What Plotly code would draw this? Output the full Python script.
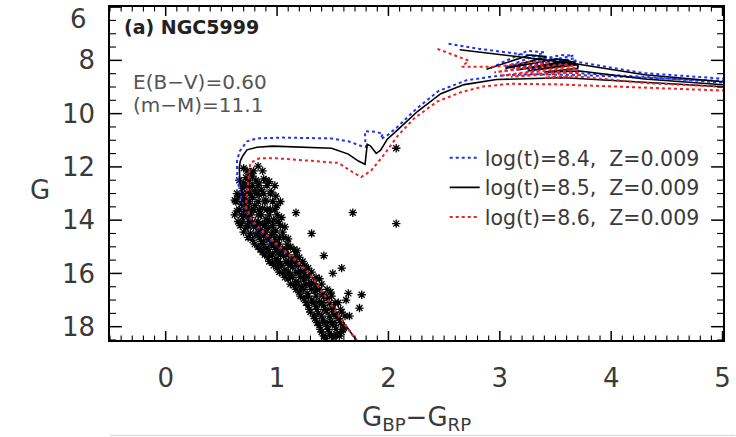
import plotly.graph_objects as go

# ---------------- data ----------------
# Isochrone log(t)=8.4 (blue)
iso84_main_c = [1.72, 1.58, 1.44, 1.29, 1.13, 0.98, 0.84, 0.75, 0.68, 0.65, 0.64, 0.64, 0.665, 0.73, 0.82, 1.05, 1.49,
                1.64, 1.76, 1.80, 1.79, 1.79, 1.88, 1.95, 1.93, 1.98, 2.08, 2.25, 2.45, 2.70, 3.00, 3.30, 3.70, 4.30, 5.05]
iso84_main_g = [18.55, 17.75, 16.9, 16.0, 15.4, 14.88, 14.4, 13.91, 13.2, 12.6, 12.16, 11.78, 11.41, 11.04, 10.93, 10.90, 10.93,
                11.04, 11.22, 11.25, 10.95, 10.66, 10.68, 10.75, 10.95, 10.85, 10.50, 9.82, 9.15, 8.75, 8.57, 8.52, 8.55, 8.65, 8.78]
iso84_top_c = [2.54, 2.82, 3.10, 3.40, 3.68, 4.30, 5.05]
iso84_top_g = [7.38, 7.57, 7.72, 7.88, 8.05, 8.48, 8.70]
iso84_loop_c = [2.92, 3.25, 3.40, 3.05, 3.55, 3.66, 3.12, 3.68, 3.68, 3.25, 3.70, 3.70, 3.45, 3.72, 4.30, 5.05]
iso84_loop_g = [8.28, 7.64, 7.70, 8.25, 7.80, 7.82, 8.30, 7.92, 8.02, 8.34, 8.10, 8.40, 8.45, 8.48, 8.62, 8.85]

# Isochrone log(t)=8.5 (black)
iso85_main_c = [1.72, 1.58, 1.44, 1.29, 1.14, 0.99, 0.85, 0.76, 0.70, 0.67, 0.66, 0.67, 0.69, 0.73, 0.82, 0.96, 1.20, 1.49,
                1.64, 1.73, 1.79, 1.80, 1.81, 1.84, 1.89, 1.93, 1.99, 2.08, 2.26, 2.47, 2.68, 2.97, 3.26, 3.56, 3.74, 4.20, 4.60, 5.05]
iso85_main_g = [18.55, 17.75, 16.9, 16.0, 15.4, 14.88, 14.4, 13.91, 13.28, 12.64, 12.04, 11.78, 11.6, 11.36, 11.26, 11.22, 11.26, 11.30,
                11.52, 11.78, 11.90, 11.52, 11.15, 11.22, 11.49, 11.37, 10.96, 10.62, 9.92, 9.25, 8.91, 8.72, 8.69, 8.65, 8.69, 8.80, 8.90, 9.00]
iso85_top_c = [2.64, 3.00, 3.40, 3.68, 4.30, 5.05]
iso85_top_g = [7.60, 7.77, 7.98, 8.13, 8.54, 8.82]
iso85_loop_c = [2.88, 3.27, 3.42, 3.05, 3.50, 3.62, 3.15, 3.66, 3.68, 3.25, 3.70, 3.70, 3.40, 3.72, 4.30, 5.05]
iso85_loop_g = [8.33, 7.80, 7.86, 8.30, 7.95, 8.00, 8.36, 8.05, 8.12, 8.40, 8.16, 8.30, 8.44, 8.40, 8.70, 8.93]

# Isochrone log(t)=8.6 (red)
iso86_main_c = [1.72, 1.58, 1.44, 1.29, 1.14, 0.99, 0.86, 0.77, 0.72, 0.73, 0.74, 0.75, 0.76, 0.84, 1.00, 1.20, 1.55, 1.68,
                1.755, 1.84, 1.95, 2.08, 2.23, 2.44, 2.65, 2.85, 3.10, 3.50, 3.80, 4.40, 5.05]
iso86_main_g = [18.55, 17.75, 16.9, 16.0, 15.4, 14.88, 14.4, 13.95, 13.5, 13.0, 12.6, 12.16, 11.85, 11.68, 11.68, 11.74, 11.85, 12.20,
                12.38, 12.16, 11.6, 10.85, 10.18, 9.54, 9.20, 8.98, 8.88, 8.90, 8.95, 9.05, 9.14]
iso86_top_c = [2.44, 2.72, 2.66, 2.97, 3.30, 3.45, 2.95, 3.55, 3.66, 3.00, 3.68, 3.70, 3.10, 3.70, 3.72, 3.40, 3.75, 4.30, 5.05]
iso86_top_g = [7.57, 8.01, 8.24, 8.24, 8.05, 8.10, 8.45, 8.15, 8.20, 8.58, 8.28, 8.35, 8.62, 8.45, 8.55, 8.65, 8.62, 8.85, 9.00]

# Observed cluster members (BP-RP, G), part 1
star_c = [0.70, 0.83, 0.76,
          0.72, 0.78, 0.88, 0.70, 0.84, 0.93,
          0.69, 0.75, 0.80, 0.86, 0.95, 0.73,
          0.66, 0.71, 0.78, 0.84, 0.90, 0.99, 0.62,
          0.68, 0.74, 0.80, 0.87, 0.94, 1.00, 0.64, 0.77,
          0.70, 0.76, 0.83, 0.90, 0.97, 0.65, 0.80, 0.87, 1.04,
          0.72, 0.79, 0.85, 0.92, 0.99, 1.07, 0.76,
          0.81, 0.88, 0.95, 1.02, 0.78, 0.86, 0.93, 1.00, 1.10,
          0.83, 0.90, 0.97, 1.05, 1.12, 0.87, 0.94, 1.01, 1.18,
          0.92, 0.99, 1.06, 1.13, 1.20, 0.96, 1.03, 1.10,
          1.00, 1.07, 1.14, 1.21, 1.28, 1.05, 1.12, 1.19, 1.26,
          1.10, 1.17, 1.24, 1.31, 1.38, 1.15, 1.22,
          1.29, 1.36, 1.20, 1.27, 1.34, 1.41, 1.48,
          1.24, 1.31, 1.38, 1.45, 1.52, 1.28, 1.35,
          1.42, 1.49, 1.30, 1.37, 1.44, 1.51, 1.58,
          1.34, 1.41, 1.48, 1.55, 1.38, 1.45, 1.52, 1.60,
          1.40, 1.47, 1.54, 1.44, 1.51, 1.58,
          1.17, 1.31, 1.68, 2.07, 2.07, 1.42, 1.76, 1.74, 1.64, 1.58]
star_g = [12.05, 11.97, 12.20,
          12.40, 12.35, 12.45, 12.60, 12.60, 12.55,
          12.80, 12.75, 12.90, 12.85, 12.95, 13.00,
          13.10, 13.20, 13.15, 13.05, 13.25, 13.10, 13.25,
          13.40, 13.50, 13.45, 13.55, 13.60, 13.45, 13.65, 13.70,
          13.85, 13.90, 13.80, 13.95, 14.00, 14.05, 14.10, 14.15, 13.90,
          14.30, 14.25, 14.35, 14.30, 14.40, 14.25, 14.50,
          14.55, 14.60, 14.55, 14.65, 14.75, 14.80, 14.75, 14.85, 14.70,
          15.00, 15.05, 14.95, 15.10, 15.00, 15.20, 15.25, 15.20, 15.15,
          15.40, 15.45, 15.35, 15.50, 15.40, 15.60, 15.65, 15.60,
          15.80, 15.85, 15.75, 15.90, 15.80, 16.00, 16.05, 16.00, 16.10,
          16.20, 16.30, 16.25, 16.35, 16.20, 16.45, 16.50,
          16.45, 16.55, 16.70, 16.75, 16.65, 16.80, 16.70,
          16.95, 17.00, 17.05, 16.95, 17.10, 17.20, 17.25,
          17.20, 17.30, 17.45, 17.50, 17.40, 17.55, 17.45,
          17.70, 17.75, 17.80, 17.70, 17.95, 18.00, 17.95, 18.05,
          18.20, 18.25, 18.30, 18.45, 18.40, 18.20,
          13.72, 14.50, 13.72, 14.13, 11.30, 15.33, 16.80, 17.30, 16.75, 15.80]

# Observed cluster members, part 2
star2_c = [0.73, 0.79, 0.87,
           0.66, 0.75, 0.81, 0.90,
           0.71, 0.78, 0.83, 0.91, 0.98,
           0.64, 0.69, 0.76, 0.82, 0.88, 0.94,
           0.63, 0.70, 0.75, 0.83, 0.89, 0.96, 1.03,
           0.66, 0.71, 0.79, 0.84, 0.91, 0.98,
           0.62, 0.68, 0.73, 0.86, 0.93, 1.00,
           0.69, 0.75, 0.83, 0.92, 1.01,
           0.67, 0.74, 0.82, 0.89, 0.96, 1.03,
           0.70, 0.83, 0.90, 0.97, 1.05,
           0.74, 0.84, 0.91, 0.98, 1.06,
           0.80, 0.88, 0.95, 1.02, 1.09,
           0.85, 0.92, 0.99, 1.08, 1.15,
           0.89, 0.96, 1.03, 1.10, 1.17,
           0.93, 1.01, 1.08, 1.16, 1.23,
           0.97, 1.04, 1.12, 1.19, 1.25,
           1.02, 1.10, 1.17, 1.24, 1.31,
           1.07, 1.14, 1.21, 1.28, 1.35,
           1.12, 1.19, 1.26, 1.33, 1.40,
           1.17, 1.24, 1.31, 1.38, 1.45,
           1.21, 1.28, 1.35, 1.42, 1.49,
           1.26, 1.33, 1.40, 1.47, 1.55,
           1.29, 1.36, 1.43, 1.50, 1.57,
           1.33, 1.40, 1.47, 1.54, 1.61,
           1.36, 1.43, 1.50, 1.57,
           1.39, 1.46, 1.53, 1.59,
           1.42, 1.49, 1.56,
           1.50, 1.62, 1.65]
star2_g = [12.15, 12.15, 12.15,
           12.50, 12.50, 12.50, 12.50,
           12.70, 12.70, 12.70, 12.70, 12.70,
           13.00, 13.00, 13.00, 13.00, 13.00, 13.00,
           13.30, 13.30, 13.30, 13.30, 13.30, 13.30, 13.30,
           13.60, 13.60, 13.60, 13.60, 13.60, 13.60,
           13.80, 13.80, 13.80, 13.80, 13.80, 13.80,
           14.05, 14.05, 14.05, 14.05, 14.05,
           14.20, 14.20, 14.20, 14.20, 14.20, 14.20,
           14.45, 14.45, 14.45, 14.45, 14.45,
           14.65, 14.65, 14.65, 14.65, 14.65,
           14.90, 14.90, 14.90, 14.90, 14.90,
           15.10, 15.10, 15.10, 15.10, 15.10,
           15.30, 15.30, 15.30, 15.30, 15.30,
           15.55, 15.55, 15.55, 15.55, 15.55,
           15.70, 15.70, 15.70, 15.70, 15.70,
           15.95, 15.95, 15.95, 15.95, 15.95,
           16.15, 16.15, 16.15, 16.15, 16.15,
           16.40, 16.40, 16.40, 16.40, 16.40,
           16.60, 16.60, 16.60, 16.60, 16.60,
           16.85, 16.85, 16.85, 16.85, 16.85,
           17.10, 17.10, 17.10, 17.10, 17.10,
           17.35, 17.35, 17.35, 17.35, 17.35,
           17.60, 17.60, 17.60, 17.60, 17.60,
           17.85, 17.85, 17.85, 17.85,
           18.10, 18.10, 18.10, 18.10,
           18.35, 18.35, 18.35,
           16.00, 17.00, 17.60]

legend_names = ["log(t)=8.4,  Z=0.009", "log(t)=8.5,  Z=0.009", "log(t)=8.6,  Z=0.009"]

FONT = "DejaVu Sans"
TXT = "#3a3a3a"

# plot-area size in px (for tick-mark lengths)
W_PX, H_PX = 736 - 110 - 7, 437 - 5 - 97


def join(*segs):
    xs, ys = [], []
    for i, (sx, sy) in enumerate(segs):
        if i:
            xs.append(None)
            ys.append(None)
        xs += sx
        ys += sy
    return xs, ys


fig = go.Figure()

fig.add_trace(go.Scatter(x=star_c + star2_c, y=star_g + star2_g, mode="markers", showlegend=False,
                         marker=dict(symbol="asterisk-open", size=7, color="black",
                                     line=dict(color="black", width=1.3))))

bx, by = join((iso84_main_c, iso84_main_g), (iso84_top_c, iso84_top_g), (iso84_loop_c, iso84_loop_g))
kx, ky = join((iso85_main_c, iso85_main_g), (iso85_top_c, iso85_top_g), (iso85_loop_c, iso85_loop_g))
rx, ry = join((iso86_main_c, iso86_main_g), (iso86_top_c, iso86_top_g))

fig.add_trace(go.Scatter(x=bx, y=by, mode="lines", name=legend_names[0], connectgaps=False,
                         line=dict(color="#2233ee", width=2, dash="dot")))
fig.add_trace(go.Scatter(x=kx, y=ky, mode="lines", name=legend_names[1], connectgaps=False,
                         line=dict(color="black", width=1.6)))
fig.add_trace(go.Scatter(x=rx, y=ry, mode="lines", name=legend_names[2], connectgaps=False,
                         line=dict(color="#ee2222", width=2, dash="dot")))

fig.update_layout(
    width=736, height=437,
    margin=dict(l=110, r=7, t=5, b=97),
    paper_bgcolor="white", plot_bgcolor="white",
    font=dict(family=FONT, color=TXT),
    legend=dict(x=0.546, y=0.607, xanchor="left", yanchor="top",
                bgcolor="rgba(0,0,0,0)", font=dict(size=20.5, color=TXT, family=FONT)),
    xaxis=dict(range=[-0.5, 5.004], tickmode="linear", tick0=0, dtick=1, ticks="",
               showline=True, linecolor="black", linewidth=1.5,
               mirror=True, showgrid=False, zeroline=False, tickfont=dict(size=26, color=TXT),
               ticklabelstandoff=14, ticklabeloverflow="allow"),
    yaxis=dict(range=[18.5, 5.996], tickmode="linear", tick0=6, dtick=2, ticks="",
               showline=True, linecolor="black", linewidth=1.5,
               mirror=True, showgrid=False, zeroline=False, tickfont=dict(size=26, color=TXT),
               ticklabelstandoff=8, ticklabeloverflow="hide past div"),
)

# tick marks drawn inside the frame on all four sides
shapes = []
for i in range(56):
    xv = round(-0.5 + 0.1 * i, 2)
    major = abs(xv - round(xv)) < 1e-6
    ln = (9 if major else 4.5) / H_PX
    wd = 1.5 if major else 1.1
    for y0, y1 in ((0, ln), (1, 1 - ln)):
        shapes.append(dict(type="line", xref="x", yref="paper", x0=xv, x1=xv, y0=y0, y1=y1,
                           line=dict(color="black", width=wd)))
for i in range(26):
    yv = 6.0 + 0.5 * i
    major = abs(yv % 2) < 1e-6
    ln = (12 if major else 6) / W_PX
    wd = 1.5 if major else 1.1
    for x0, x1 in ((0, ln), (1, 1 - ln)):
        shapes.append(dict(type="line", xref="paper", yref="y", x0=x0, x1=x1, y0=yv, y1=yv,
                           line=dict(color="black", width=wd)))
shapes.append(dict(type="line", xref="paper", yref="paper", x0=0, x1=1.02, y0=-0.287, y1=-0.287,
                   line=dict(color="#dddddd", width=1.5)))
fig.update_layout(shapes=shapes)

ann = [
    dict(text="6", x=-0.035, y=0.965, xanchor="right", yanchor="middle", font=dict(size=26, color=TXT)),
    dict(text="<b>(a) NGC5999</b>", x=0.02, y=0.94, xanchor="left", yanchor="middle", font=dict(size=19, color="#222")),
    dict(text="E(B\u2212V)=0.60", x=0.035, y=0.775, xanchor="left", yanchor="middle", font=dict(size=20, color="#555")),
    dict(text="(m\u2212M)=11.1", x=0.035, y=0.705, xanchor="left", yanchor="middle", font=dict(size=20, color="#555")),
    dict(text="G", x=-0.115, y=0.45, xanchor="center", yanchor="middle", font=dict(size=26, color=TXT)),
    dict(text="G<sub>BP</sub>\u2212G<sub>RP</sub>", x=0.5, y=-0.235, xanchor="center", yanchor="middle",
         font=dict(size=26, color=TXT)),
]
for a in ann:
    a.update(xref="paper", yref="paper", showarrow=False)
    fig.add_annotation(**a)

fig.write_html("out.html")
